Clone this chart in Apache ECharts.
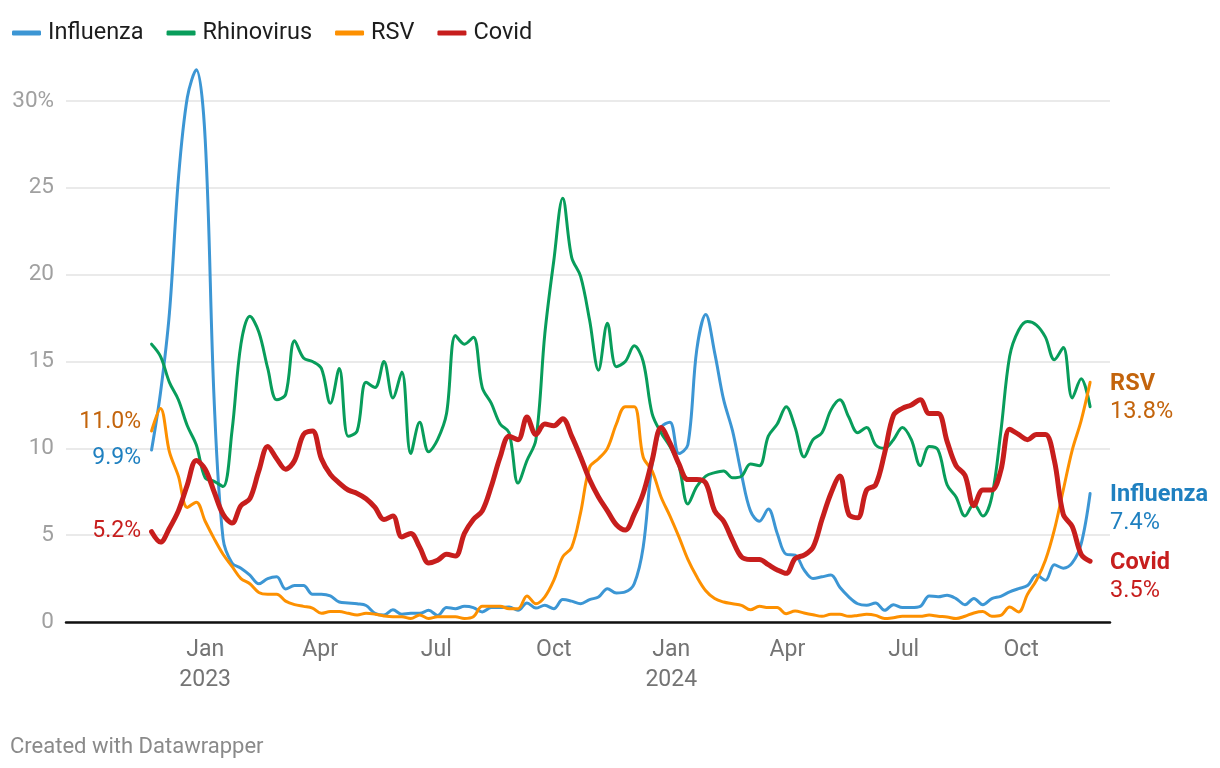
<!DOCTYPE html>
<html>
<head>
<meta charset="utf-8">
<title>Respiratory virus positivity</title>
<script src="https://cdn.jsdelivr.net/npm/echarts@6/dist/echarts.min.js"></script>
<style>
  html, body { margin: 0; padding: 0; background: #fff; }
  #chart { width: 1220px; height: 768px; }
</style>
</head>
<body>
<div id="chart"></div>
<script>
// weekly test positivity (%), first week 2022-11-20
var firstWeek = Date.UTC(2022, 10, 20);
var weekMs = 7 * 24 * 3600 * 1000;

var influenza = [
  9.9, 13.2, 17.8, 25.5, 30.2, 31.8, 27.8, 12.8, 4.8, 3.4,
  3.1, 2.7, 2.2, 2.5, 2.6, 1.9, 2.1, 2.1, 1.6, 1.6,
  1.5, 1.15, 1.1, 1.05, 0.95, 0.5, 0.4, 0.7, 0.45, 0.5,
  0.5, 0.67, 0.38, 0.83, 0.77, 0.9, 0.83, 0.58, 0.83, 0.83,
  0.86, 0.67, 1.1, 0.8, 0.96, 0.77, 1.29, 1.2, 1.05, 1.29,
  1.44, 1.92, 1.67, 1.73, 2.2, 4.3, 9.1, 11.2, 11.5, 9.7,
  10.2, 15.7, 17.7, 15.5, 12.8, 11.0, 8.5, 6.4, 5.8, 6.5,
  5.1, 3.9, 3.85, 3.0, 2.5, 2.6, 2.7, 2.0, 1.45, 1.05,
  0.96, 1.1, 0.67, 1.0, 0.83, 0.83, 0.9, 1.5, 1.45, 1.54,
  1.35, 1.0, 1.35, 1.0, 1.35, 1.48, 1.73, 1.92, 2.1, 2.7,
  2.4, 3.3, 3.1, 3.4, 4.5, 7.4
];

var rhinovirus = [
  16.0, 15.3, 13.8, 12.8, 11.3, 10.2, 8.3, 8.1, 7.8, 11.0,
  16.0, 17.6, 16.7, 14.6, 12.8, 13.1, 16.2, 15.2, 15.0, 14.6,
  12.6, 14.6, 10.7, 11.0, 13.8, 13.5, 15.0, 12.9, 14.4, 9.7,
  11.5, 9.8, 10.5, 12.0, 16.5, 16.0, 16.4, 13.5, 12.6, 11.4,
  10.9, 8.0, 9.3, 10.5, 16.6, 20.8, 24.4, 21.0, 19.9, 17.4,
  14.5, 17.2, 14.7, 15.0, 15.9, 15.0, 12.0, 10.9, 10.1, 9.0,
  6.8, 7.8, 8.4, 8.6, 8.7, 8.3, 8.4, 9.1, 9.0, 10.7,
  11.4, 12.4, 11.2, 9.5, 10.5, 10.9, 12.2, 12.8, 11.8, 10.9,
  11.2, 10.2, 10.0, 10.5, 11.2, 10.5, 9.0, 10.1, 9.9, 7.9,
  7.2, 6.1, 6.8, 6.1, 7.2, 10.9, 15.3, 16.8, 17.3, 17.1,
  16.4, 15.1, 15.8, 12.9, 14.0, 12.4
];

var rsv = [
  11.0, 12.3, 9.8, 8.4, 6.6, 6.9, 5.8, 4.8, 3.9, 3.2,
  2.5, 2.2, 1.7, 1.6, 1.6, 1.2, 1.0, 0.9, 0.8, 0.5,
  0.6, 0.6, 0.5, 0.4, 0.5, 0.45, 0.35, 0.3, 0.3, 0.2,
  0.4, 0.2, 0.3, 0.3, 0.3, 0.2, 0.3, 0.9, 0.9, 0.9,
  0.77, 0.77, 1.5, 1.05, 1.45, 2.4, 3.75, 4.3, 6.3, 8.9,
  9.4, 10.0, 11.4, 12.4, 12.4, 9.5, 8.7, 7.2, 6.1, 4.9,
  3.6, 2.6, 1.8, 1.35, 1.15, 1.05, 0.96, 0.7, 0.9, 0.83,
  0.83, 0.48, 0.63, 0.52, 0.42, 0.33, 0.44, 0.44, 0.33, 0.38,
  0.44, 0.38, 0.2, 0.25, 0.33, 0.33, 0.33, 0.4, 0.33, 0.29,
  0.2, 0.33, 0.52, 0.6, 0.33, 0.38, 0.86, 0.58, 1.6, 2.4,
  3.55, 5.3, 7.6, 9.9, 11.6, 13.8
];

var covid = [
  5.2, 4.6, 5.4, 6.4, 7.9, 9.3, 8.8, 7.5, 6.2, 5.7,
  6.7, 7.1, 8.7, 10.1, 9.4, 8.8, 9.3, 10.8, 11.0, 9.4,
  8.5, 8.0, 7.6, 7.4, 7.1, 6.6, 5.9, 6.1, 4.9, 5.1,
  4.3, 3.4, 3.55, 3.9, 3.8, 5.1, 5.9, 6.4, 7.8, 9.5,
  10.7, 10.5, 11.8, 10.8, 11.4, 11.3, 11.7, 10.7, 9.5, 8.2,
  7.2, 6.4, 5.6, 5.3, 6.2, 7.4, 9.3, 11.2, 10.3, 9.1,
  8.2, 8.2, 8.0, 6.4, 5.8, 4.7, 3.75, 3.6, 3.6, 3.3,
  3.0, 2.8, 3.65, 3.85, 4.3, 5.9, 7.4, 8.4, 6.2, 6.0,
  7.6, 7.9, 9.7, 11.9, 12.3, 12.5, 12.8, 12.0, 12.0, 10.4,
  9.0, 8.45, 6.7, 7.6, 7.6, 8.7, 11.1, 10.8, 10.5, 10.8,
  10.8, 9.3, 6.2, 5.5, 3.9, 3.5
];

// x axis tick labels
var tickDates = [
  Date.UTC(2023, 0, 1), Date.UTC(2023, 3, 1), Date.UTC(2023, 6, 1), Date.UTC(2023, 9, 1),
  Date.UTC(2024, 0, 1), Date.UTC(2024, 3, 1), Date.UTC(2024, 6, 1), Date.UTC(2024, 9, 1)
];
var tickLabels = ['Jan\n2023', 'Apr', 'Jul', 'Oct', 'Jan\n2024', 'Apr', 'Jul', 'Oct'];

var yTicks = [0, 5, 10, 15, 20, 25, 30];

var FONT = 'Roboto, "Noto Sans", sans-serif';

var toPoints = function(values) {
  var pts = [];
  for (var i = 0; i < values.length; i++) {
    pts.push([firstWeek + i * weekMs, values[i]]);
  }
  return pts;
};

// one line series, optional start / end labels
var makeSeries = function(name, values, color, width, labelColor, startOffset, showEnd) {
  var s = {
    name: name,
    type: 'line',
    data: toPoints(values),
    smooth: 0.35,
    showSymbol: false,
    symbol: 'none',
    clip: false,
    lineStyle: { color: color, width: width, cap: 'round', join: 'round' },
    itemStyle: { color: color },
    emphasis: { disabled: true }
  };
  if (showEnd) {
    s.endLabel = {
      show: true,
      distance: 20,
      offset: [0, 16],
      formatter: function(p) {
        return '{n|' + p.seriesName + '}\n{v|' + p.value[1].toFixed(1) + '%}';
      },
      rich: {
        n: { fontFamily: FONT, fontSize: 23.5, fontWeight: 'bold', color: labelColor, lineHeight: 28 },
        v: { fontFamily: FONT, fontSize: 23.5, color: labelColor, lineHeight: 28 }
      }
    };
  }
  if (startOffset !== null) {
    s.markPoint = {
      symbol: 'circle',
      symbolSize: 1,
      silent: true,
      itemStyle: { color: 'rgba(0,0,0,0)' },
      data: [{ coord: [firstWeek, values[0]], value: values[0] }],
      label: {
        show: true,
        position: 'left',
        distance: 10,
        offset: [0, startOffset],
        fontFamily: FONT,
        fontSize: 23,
        color: labelColor,
        formatter: function(p) { return p.value.toFixed(1) + '%'; }
      }
    };
  }
  return s;
};

var chart = echarts.init(document.getElementById('chart'));

var option = {
  animation: false,
  backgroundColor: '#ffffff',
  textStyle: { fontFamily: FONT },
  title: {
    text: 'Created with Datawrapper',
    left: 10,
    top: 736,
    padding: 0,
    textStyle: { fontFamily: FONT, fontSize: 22, fontWeight: 'normal', color: '#8a8a8a' }
  },
  legend: {
    left: 12,
    top: 21,
    padding: 0,
    itemGap: 23,
    itemWidth: 29,
    itemHeight: 5,
    icon: 'roundRect',
    selectedMode: false,
    textStyle: { fontFamily: FONT, fontSize: 23.5, color: '#1d1d1d', padding: [0, 0, 0, 2] },
    data: ['Influenza', 'Rhinovirus', 'RSV', 'Covid']
  },
  grid: { left: 66, right: 110, top: 101, bottom: 146 },
  xAxis: {
    type: 'value',
    min: Date.UTC(2022, 8, 14),
    max: Date.UTC(2024, 11, 9, 14),
    axisLine: { show: true, onZero: false, lineStyle: { color: '#111', width: 2.5 } },
    axisTick: { show: false },
    splitLine: { show: false },
    axisLabel: {
      customValues: tickDates,
      margin: 13,
      fontFamily: FONT,
      fontSize: 23,
      lineHeight: 30,
      color: '#747474',
      hideOverlap: false,
      formatter: function(v) {
        var k = tickDates.indexOf(v);
        return k >= 0 ? tickLabels[k] : '';
      }
    }
  },
  yAxis: {
    type: 'value',
    min: 0,
    max: 30,
    interval: 5,
    axisLine: { show: false },
    axisTick: { show: false },
    splitLine: { lineStyle: { color: '#e3e3e3', width: 1.5 } },
    axisLabel: {
      margin: 12,
      fontFamily: FONT,
      fontSize: 22.5,
      color: '#a0a0a0',
      formatter: function(v) {
        if (yTicks.indexOf(v) < 0) return '';
        return v === 30 ? v + '%' : '' + v;
      }
    }
  },
  series: [
    makeSeries('Influenza', influenza, '#3c96d4', 3, '#1f80c0', 8, true),
    makeSeries('Rhinovirus', rhinovirus, '#089d5b', 3, '#089d5b', null, false),
    makeSeries('RSV', rsv, '#fd9000', 3, '#c3640c', -9, true),
    makeSeries('Covid', covid, '#c71e1d', 5, '#c71e1d', 0, true)
  ]
};

chart.setOption(option);
</script>
</body>
</html>
